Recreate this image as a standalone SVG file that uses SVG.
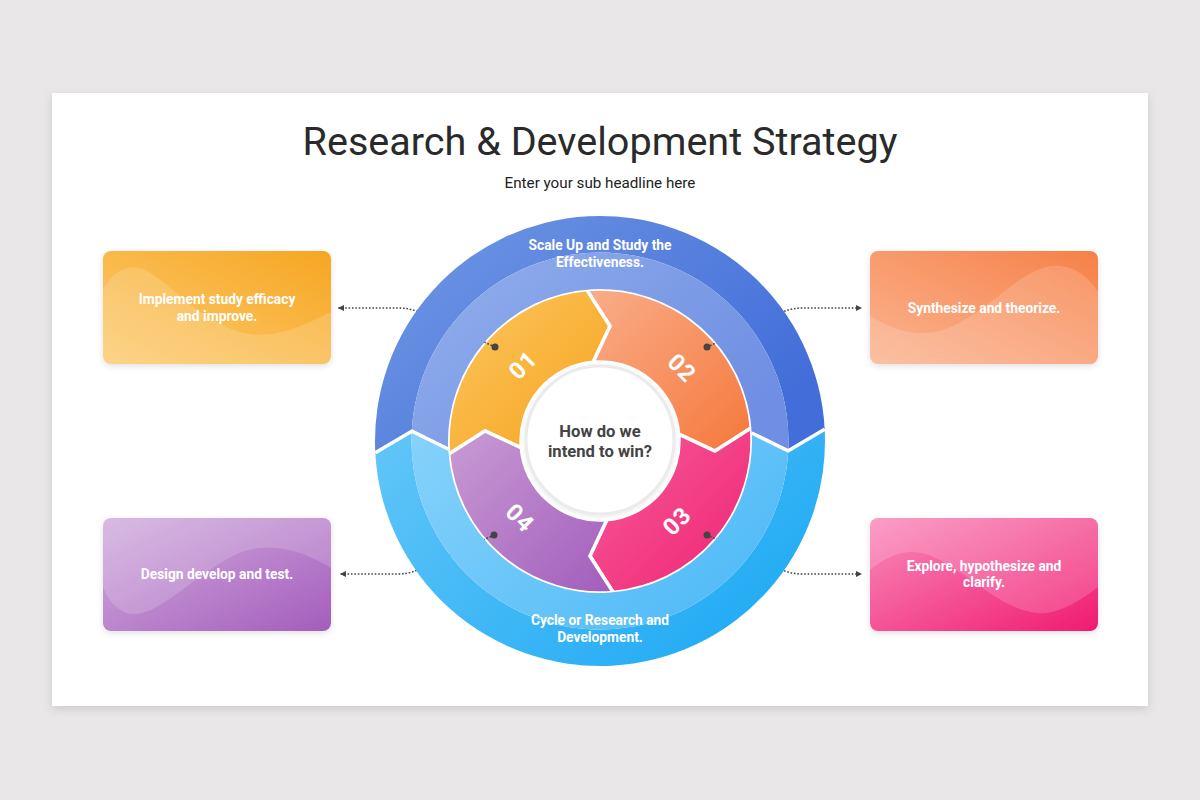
<svg xmlns="http://www.w3.org/2000/svg" width="1200" height="800" viewBox="0 0 1200 800">
<defs>
<style>
.title{font-family:Roboto,"Liberation Sans",sans-serif;font-size:39.6px;fill:#2a2a2a;text-anchor:middle}
.sub{font-family:Roboto,"Liberation Sans",sans-serif;font-size:15.2px;fill:#222;text-anchor:middle}
.wt{font-family:Roboto,"Liberation Sans",sans-serif;font-size:13.8px;font-weight:700;fill:#fff;text-anchor:middle}
.num{font-family:Roboto,"Liberation Sans",sans-serif;font-size:23.5px;font-weight:700;fill:#fff;text-anchor:middle;dominant-baseline:central;letter-spacing:1px}
.ctr{font-family:Roboto,"Liberation Sans",sans-serif;font-size:16.6px;font-weight:700;fill:#444;text-anchor:middle}
.seg{stroke:#fff;stroke-width:3.5;stroke-linejoin:round}
.sep{fill:none;stroke:#fff;stroke-width:3.5;stroke-linejoin:round}
.conn{fill:none;stroke:#444;stroke-width:1.6;stroke-dasharray:1.6 1.8}
.dot{fill:#444}
.wave{fill:#fff;opacity:0.16}
</style>
<filter id="cardShadow" x="-5%" y="-5%" width="110%" height="115%"><feDropShadow dx="0" dy="3" stdDeviation="5" flood-color="#000" flood-opacity="0.13"/></filter>
<filter id="boxShadow" x="-10%" y="-10%" width="120%" height="130%"><feDropShadow dx="0" dy="2" stdDeviation="3" flood-color="#000" flood-opacity="0.12"/></filter>
<filter id="cShadow" x="-20%" y="-20%" width="140%" height="140%"><feDropShadow dx="0" dy="1" stdDeviation="2" flood-color="#000" flood-opacity="0.1"/></filter>
<linearGradient id="gS1" x1="0" y1="0" x2="1" y2="1"><stop offset="0" stop-color="#fcc75f"/><stop offset="1" stop-color="#f6a21d"/></linearGradient>
<linearGradient id="gS2" x1="0" y1="0" x2="1" y2="1"><stop offset="0" stop-color="#f9ad8a"/><stop offset="1" stop-color="#f5783b"/></linearGradient>
<linearGradient id="gS3" x1="0" y1="0" x2="1" y2="1"><stop offset="0" stop-color="#f85d9b"/><stop offset="1" stop-color="#ee2371"/></linearGradient>
<linearGradient id="gS4" x1="0" y1="0" x2="1" y2="1"><stop offset="0" stop-color="#c99bd4"/><stop offset="1" stop-color="#a15dbc"/></linearGradient>
<linearGradient id="gTopO" x1="0" y1="0" x2="1" y2="0.6"><stop offset="0" stop-color="#7198e4"/><stop offset="1" stop-color="#436ed9"/></linearGradient>
<linearGradient id="gTopI" x1="0" y1="0" x2="1" y2="0.6"><stop offset="0" stop-color="#93afec"/><stop offset="1" stop-color="#6e8fe3"/></linearGradient>
<linearGradient id="gBotO" x1="0" y1="0" x2="1" y2="0.6"><stop offset="0" stop-color="#62c6f8"/><stop offset="1" stop-color="#22abf4"/></linearGradient>
<linearGradient id="gBotI" x1="0" y1="0" x2="1" y2="0.6"><stop offset="0" stop-color="#86d2fb"/><stop offset="1" stop-color="#52bbf7"/></linearGradient>
<linearGradient id="gB1" x1="0" y1="1" x2="1" y2="0"><stop offset="0" stop-color="#fccc72"/><stop offset="1" stop-color="#f7a622"/></linearGradient>
<linearGradient id="gB2" x1="0" y1="1" x2="1" y2="0"><stop offset="0" stop-color="#fbb491"/><stop offset="1" stop-color="#f68148"/></linearGradient>
<linearGradient id="gB3" x1="0" y1="0" x2="1" y2="1"><stop offset="0" stop-color="#f98cba"/><stop offset="1" stop-color="#f01b71"/></linearGradient>
<linearGradient id="gB4" x1="0" y1="0" x2="1" y2="1"><stop offset="0" stop-color="#d2aede"/><stop offset="1" stop-color="#a45dbc"/></linearGradient>
<clipPath id="c1"><rect x="103" y="251" width="228" height="113" rx="8"/></clipPath>
<clipPath id="c2"><rect x="870" y="251" width="228" height="113" rx="8"/></clipPath>
<clipPath id="c3"><rect x="870" y="518" width="228" height="113" rx="8"/></clipPath>
<clipPath id="c4"><rect x="103" y="518" width="228" height="113" rx="8"/></clipPath>
<marker id="arr" viewBox="0 0 6 6" refX="6" refY="3" markerWidth="6" markerHeight="6" markerUnits="userSpaceOnUse" orient="auto"><path d="M0,0 L6,3 L0,6 z" fill="#444"/></marker>
</defs>

<rect x="0" y="0" width="1200" height="800" fill="#e9e7e8"/>
<rect x="52" y="93" width="1096" height="613" fill="#fff" filter="url(#cardShadow)"/>

<g id="title">
<text class="title" x="600" y="155">Research &amp; Development Strategy</text>
<text class="sub" x="600" y="187.5">Enter your sub headline here</text>
</g>

<g id="box1">
<g filter="url(#boxShadow)"><rect x="103" y="251" width="228" height="113" rx="8" fill="url(#gB1)"/></g>
<path class="wave" clip-path="url(#c1)" d="M103,290 C112,272 128,262 145,270 C170,282 195,318 240,332 C275,342 310,322 331,312 L331,364 L103,364 Z"/>
<text class="wt" x="217" y="304">Implement study efficacy</text>
<text class="wt" x="217" y="321">and improve.</text>
</g>
<g id="box2">
<g filter="url(#boxShadow)"><rect x="870" y="251" width="228" height="113" rx="8" fill="url(#gB2)"/></g>
<path class="wave" clip-path="url(#c2)" d="M870,316 C890,328 910,336 935,332 C985,322 1020,262 1060,266 C1080,268 1092,282 1098,292 L1098,364 L870,364 Z"/>
<text class="wt" x="984" y="312.5">Synthesize and theorize.</text>
</g>
<g id="box3">
<g filter="url(#boxShadow)"><rect x="870" y="518" width="228" height="113" rx="8" fill="url(#gB3)"/></g>
<path class="wave" clip-path="url(#c3)" d="M870,518 L1098,518 L1098,587 C1080,600 1060,615 1037,613 C990,608 950,550 910,552 C893,553 880,562 870,570 Z"/>
<text class="wt" x="984" y="570.5">Explore, hypothesize and</text>
<text class="wt" x="984" y="587">clarify.</text>
</g>
<g id="box4">
<g filter="url(#boxShadow)"><rect x="103" y="518" width="228" height="113" rx="8" fill="url(#gB4)"/></g>
<path class="wave" clip-path="url(#c4)" d="M103,518 L331,518 L331,568 C310,555 285,545 257,548 C215,553 170,610 137,614 C120,616 108,600 103,587 Z"/>
<text class="wt" x="217" y="579">Design develop and test.</text>
</g>

<g id="segment1"><path class="seg" fill="url(#gS1)" d="M448.58,454.25 A152,152 0 0 1 586.75,289.58 L610.07,325.94 L593.11,362.30 A79,79 0 0 0 521.30,447.89 L484.94,430.93 Z"/></g>
<g id="segment2"><path class="seg" fill="url(#gS2)" d="M586.75,289.58 A152,152 0 0 1 751.42,427.75 L715.06,451.07 L678.70,434.11 A79,79 0 0 0 593.11,362.30 L610.07,325.94 Z"/></g>
<g id="segment3"><path class="seg" fill="url(#gS3)" d="M751.42,427.75 A152,152 0 0 1 613.25,592.42 L589.93,556.06 L606.89,519.70 A79,79 0 0 0 678.70,434.11 L715.06,451.07 Z"/></g>
<g id="segment4"><path class="seg" fill="url(#gS4)" d="M613.25,592.42 A152,152 0 0 1 448.58,454.25 L484.94,430.93 L521.30,447.89 A79,79 0 0 0 606.89,519.70 L589.93,556.06 Z"/></g>

<g id="connectors">
<path class="conn" d="M495,347 L416,311 Q408,308 398,308 L338,308" marker-end="url(#arr)"/>
<path class="conn" d="M707,347 L785,311 Q793,308 803,308 L862,308" marker-end="url(#arr)"/>
<path class="conn" d="M494,535 L415,571 Q407,574 397,574 L340,574" marker-end="url(#arr)"/>
<path class="conn" d="M707,535 L785,571 Q793,574 803,574 L862,574" marker-end="url(#arr)"/>
<circle class="dot" cx="495" cy="347" r="3.5"/>
<circle class="dot" cx="707" cy="347" r="3.5"/>
<circle class="dot" cx="707" cy="535" r="3.5"/>
<circle class="dot" cx="494" cy="535" r="3.5"/>
</g>

<g id="outer-top">
<path fill="url(#gTopO)" d="M375.31,452.78 A225,225 0 0 1 588.22,216.31 A225,225 0 0 1 824.69,429.22 L788.24,450.87 A188.5,188.5 0 0 0 609.87,252.76 A188.5,188.5 0 0 0 411.76,431.13 Z"/>
<path fill="url(#gTopI)" d="M411.76,431.13 A188.5,188.5 0 0 1 609.87,252.76 A188.5,188.5 0 0 1 788.24,450.87 L751.79,433.04 A152,152 0 0 0 592.04,289.21 A152,152 0 0 0 448.21,448.96 Z"/>
<text class="wt" x="600" y="250">Scale Up and Study the</text>
<text class="wt" x="600" y="266.5">Effectiveness.</text>
</g>
<g id="outer-bottom">
<path fill="url(#gBotO)" d="M824.69,429.22 A225,225 0 0 1 611.78,665.69 A225,225 0 0 1 375.31,452.78 L411.76,431.13 A188.5,188.5 0 0 0 590.13,629.24 A188.5,188.5 0 0 0 788.24,450.87 Z"/>
<path fill="url(#gBotI)" d="M788.24,450.87 A188.5,188.5 0 0 1 590.13,629.24 A188.5,188.5 0 0 1 411.76,431.13 L448.21,448.96 A152,152 0 0 0 607.96,592.79 A152,152 0 0 0 751.79,433.04 Z"/>
<text class="wt" x="600" y="625">Cycle or Research and</text>
<text class="wt" x="600" y="641.5">Development.</text>
</g>
<path class="sep" d="M375.31,452.78 L411.76,431.13 L448.21,448.96"/>
<path class="sep" d="M824.69,429.22 L788.24,450.87 L751.79,433.04"/>

<g id="numbers">
<text class="num" transform="translate(523,365) rotate(-45)">01</text>
<text class="num" transform="translate(682,368) rotate(45)">02</text>
<text class="num" transform="translate(677,521) rotate(-45)">03</text>
<text class="num" transform="translate(520,518) rotate(45)">04</text>
</g>

<g id="center">
<circle cx="600" cy="440" r="74" fill="#fff" stroke="#ebebeb" stroke-width="3" filter="url(#cShadow)"/>
<text class="ctr" x="600" y="437">How do we</text>
<text class="ctr" x="600" y="457">intend to win?</text>
</g>
</svg>
